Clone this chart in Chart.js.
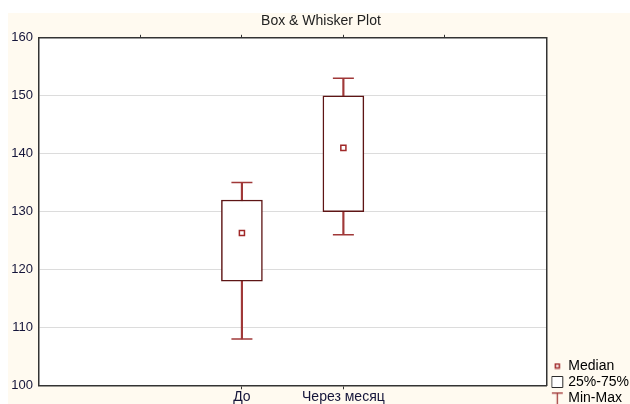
<!DOCTYPE html>
<html>
<head>
<meta charset="utf-8">
<script src="https://cdn.jsdelivr.net/npm/chart.js@4.4.1/dist/chart.umd.min.js"></script>
<style>
  html, body { margin: 0; padding: 0; background: #fff; }
  #wrap { position: absolute; left: 8px; top: 13px; width: 622px; height: 391px; background: #fffaf0; }
</style>
</head>
<body>
<div id="wrap"><canvas id="myChart" width="622" height="391"></canvas></div>
<script>
// data
const categories = ['До', 'Через месяц'];
const minVals = [108, 126];
const q1Vals = [118, 130];
const medianVals = [126.3, 141];
const q3Vals = [132, 150];
const maxVals = [135, 153];
const yTicks = [100, 110, 120, 130, 140, 150, 160];

// two empty slots each side, like the original axis
const xLabels = ['', ''].concat(categories, ['', '']);

const boxColor = '#5e1515';
const whiskColor = '#a03838';
const textColor = '#15153a';

function makeIcon(w, h, draw) {
  const c = document.createElement('canvas');
  c.width = w; c.height = h;
  draw(c.getContext('2d'));
  return c;
}
const iconMedian = makeIcon(7, 7, g => {
  g.fillStyle = '#fff'; g.fillRect(1, 1, 5, 5);
  g.strokeStyle = '#a02828'; g.lineWidth = 1.5; g.strokeRect(1.5, 1.5, 4, 4);
});
const iconT = makeIcon(13, 13, g => {
  g.strokeStyle = whiskColor; g.lineWidth = 1.3;
  g.beginPath(); g.moveTo(1, 1.5); g.lineTo(12, 1.5); g.moveTo(6.5, 1.5); g.lineTo(6.5, 13); g.stroke();
});

const caps = [];
categories.forEach((c, i) => {
  caps.push({x: c, y: minVals[i]});
  caps.push({x: c, y: maxVals[i]});
});

// white plot area + nudge legend into the corner
const plotBg = {
  id: 'plotBg',
  afterLayout(chart) {
    const lg = chart.legend;
    lg.left += 5; lg.right += 5;
    lg.top += 3; lg.bottom += 3;
  },
  beforeDraw(chart) {
    const a = chart.chartArea;
    chart.ctx.save();
    chart.ctx.fillStyle = '#ffffff';
    chart.ctx.fillRect(a.left, a.top, a.right - a.left, a.bottom - a.top);
    chart.ctx.restore();
  }
};

const ctx = document.getElementById('myChart').getContext('2d');
const myChart = new Chart(ctx, {
  type: 'bar',
  data: {
    labels: xLabels,
    datasets: [
      {
        label: 'Min-Max',
        data: categories.map((c, i) => ({x: c, y: [minVals[i], maxVals[i]]})),
        backgroundColor: whiskColor,
        borderWidth: 0,
        barThickness: 1.5,
        grouped: false,
        order: 3
      },
      {
        type: 'line',
        label: 'caps',
        data: caps,
        showLine: false,
        pointStyle: 'line',
        pointRadius: 10.5,
        pointHoverRadius: 10.5,
        borderColor: whiskColor,
        borderWidth: 1.5,
        order: 3
      },
      {
        label: '25%-75%',
        data: categories.map((c, i) => ({x: c, y: [q1Vals[i], q3Vals[i]]})),
        backgroundColor: '#ffffff',
        borderColor: boxColor,
        borderWidth: 1.5,
        borderSkipped: false,
        barThickness: 41,
        grouped: false,
        order: 2
      },
      {
        type: 'line',
        label: 'Median',
        data: categories.map((c, i) => ({x: c, y: medianVals[i]})),
        showLine: false,
        pointStyle: 'rect',
        pointRadius: 3.6,
        pointHoverRadius: 3.6,
        backgroundColor: '#ffffff',
        borderColor: '#a02828',
        borderWidth: 1.5,
        order: 1
      }
    ]
  },
  options: {
    responsive: false,
    animation: false,
    layout: { padding: { left: 0, top: 0, bottom: 0, right: -4 } },
    plugins: {
      tooltip: { enabled: false },
      title: {
        display: true,
        text: 'Box & Whisker Plot',
        color: '#222',
        font: { family: 'Liberation Sans', size: 14, weight: 'normal' },
        padding: { top: 0, bottom: 5 }
      },
      legend: {
        position: 'right',
        align: 'end',
        labels: {
          usePointStyle: true,
          boxWidth: 8,
          boxHeight: 11,
          color: textColor,
          font: { family: 'Liberation Sans', size: 14 },
          padding: 2,
          generateLabels: () => [
            { text: 'Median', pointStyle: iconMedian, fillStyle: '#fff', strokeStyle: '#a02828', lineWidth: 0 },
            { text: '25%-75%', pointStyle: 'rect', fillStyle: '#ffffff', strokeStyle: '#2a2a2a', lineWidth: 1 },
            { text: 'Min-Max', pointStyle: iconT, fillStyle: '#fff', strokeStyle: whiskColor, lineWidth: 0 }
          ]
        }
      }
    },
    scales: {
      x: {
        type: 'category',
        offset: false,
        grid: {
          offset: false,
          drawOnChartArea: false,
          tickLength: 4,
          color: c => (xLabels[c.index] ? '#333' : 'rgba(0,0,0,0)')
        },
        border: { color: '#333', width: 1.5 },
        ticks: {
          color: textColor,
          font: { family: 'Liberation Sans', size: 14, lineHeight: 1.05 },
          padding: 0,
          autoSkip: false,
          maxRotation: 0
        }
      },
      x2: {
        type: 'category',
        labels: xLabels,
        position: 'top',
        offset: false,
        grid: {
          offset: false,
          drawOnChartArea: false,
          tickLength: 3,
          color: c => (c.index > 0 && c.index < xLabels.length - 1 ? '#333' : 'rgba(0,0,0,0)')
        },
        border: { color: '#333', width: 1.5 },
        ticks: { display: false }
      },
      y: {
        min: yTicks[0],
        max: yTicks[yTicks.length - 1],
        afterBuildTicks: s => { s.ticks = yTicks.map(v => ({value: v})); },
        afterFit: s => { s.width = 31; },
        grid: { color: '#dcdcdc', tickLength: 0 },
        border: { color: '#333', width: 1.5 },
        ticks: {
          color: textColor,
          font: { family: 'Liberation Sans', size: 13 },
          padding: 6
        }
      },
      y2: {
        position: 'right',
        min: yTicks[0],
        max: yTicks[yTicks.length - 1],
        afterFit: s => { s.width = 0; },
        grid: { display: false, drawTicks: false },
        border: { color: '#333', width: 1.5 },
        ticks: { display: false }
      }
    }
  },
  plugins: [plotBg]
});
</script>
</body>
</html>
